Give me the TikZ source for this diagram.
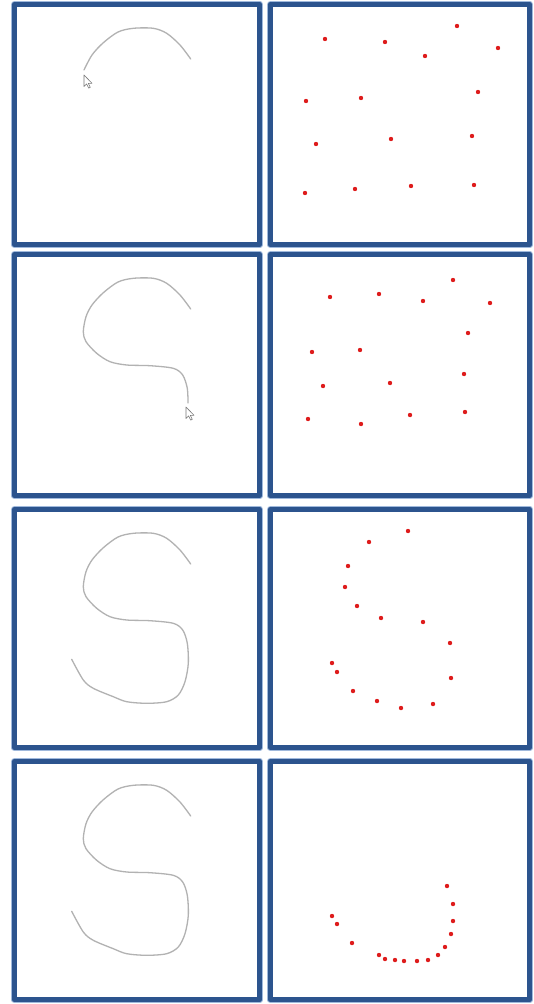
\documentclass[tikz,border=0pt]{standalone}
\usepackage{tikz}
\usetikzlibrary{arrows.meta}
\definecolor{sketch@frame}{RGB}{44,84,142}
\definecolor{sketch@halo}{RGB}{160,185,220}
\definecolor{sketch@ink}{RGB}{178,178,178}
\definecolor{sketch@dot}{RGB}{222,28,28}
\definecolor{sketch@cursor}{RGB}{120,120,120}
\tikzset{
  sketch/.style={x=1pt, y=-1pt, line join=round, line cap=round},
  panel/.style={                   % window frame
    draw=sketch@frame, line width=4.6pt,
    preaction={draw=sketch@halo, line width=6.4pt},
    fill=white
  },
  stroke/.style={draw=sketch@ink, line width=1.3pt},
  sample/.style={fill=sketch@dot},
  pointer/.style={draw=sketch@cursor, line width=0.6pt, fill=white}
}
% full S stroke, in panel coordinates
\newcommand{\sketchS}{(178.7,57) (168,43) (154.7,31.3) (141.3,26.3) (121.3,26.3)
  (106,30) (91,41) (80,53) (74,64.7) (71.3,79.7) (74,89.7) (84.7,101.3)
  (98,109.7) (114.7,113) (138,113.7) (161.3,116.3) (170.7,123) (175.3,136.3)
  (176.3,156.3) (173,174.7) (166.3,188) (154.7,194.7) (134.7,196.3) (114.7,194.7)
  (101.3,189.7) (81.3,181.3) (71.3,173) (59.7,152.3)}
\begin{document}
\begin{tikzpicture}[sketch]
\useasboundingbox (0,0) rectangle (533,1004);

% frames: left (drawing) and right (samples), four rows
\foreach \ptop/\pbot in {2/247, 252/498, 507/750, 759/1002} {
  \draw[panel] (14.3,\ptop+2.3) rectangle (259.7,\pbot-2.3);
  \draw[panel] (270.3,\ptop+2.3) rectangle (529.7,\pbot-2.3);
}

% row 1: start of the stroke
\begin{scope}[shift={(12,2)}]
  \draw[stroke] plot[smooth] coordinates {(178.7,57) (168,43) (154.7,31.3)
    (141.3,26.3) (121.3,26.3) (106,30) (91,41) (80,53) (72,68)};
\end{scope}
\draw[pointer] (84,75) -- ++(0,11.5) -- ++(2.6,-2.6) -- ++(2.1,4.2) -- ++(1.6,-0.8)
  -- ++(-2,-4) -- ++(3.7,0) -- cycle;

% row 2: stroke down to the lower bowl
\begin{scope}[shift={(12,252)}]
  \draw[stroke] plot[smooth] coordinates {(178.7,57) (168,43) (154.7,31.3)
    (141.3,26.3) (121.3,26.3) (106,30) (91,41) (80,53) (74,64.7)
    (71.3,79.7) (74,89.7) (84.7,101.3) (98,109.7) (114.7,113) (138,113.7)
    (161.3,116.3) (170.7,123) (175.3,136.3) (176,151)};
\end{scope}
\draw[pointer] (186,407) -- ++(0,11.5) -- ++(2.6,-2.6) -- ++(2.1,4.2) -- ++(1.6,-0.8)
  -- ++(-2,-4) -- ++(3.7,0) -- cycle;

% rows 3 and 4: whole S
\begin{scope}[shift={(12,507)}]
  \draw[stroke] plot[smooth] coordinates {\sketchS};
\end{scope}
\begin{scope}[shift={(12,759)}]
  \draw[stroke] plot[smooth] coordinates {\sketchS};
\end{scope}

% sample points
\foreach \px/\py in {325/39, 385/42, 457/26, 425/56, 498/48, 306/101, 361/98,
    478/92, 316/144, 391/139, 472/136, 305/193, 355/189, 411/186, 474/185}
  \fill[sample] (\px,\py) circle (2.2);
\foreach \px/\py in {330/297, 379/294, 453/280, 423/301, 490/303, 468/333,
    312/352, 360/350, 464/374, 323/386, 390/383, 308/419, 361/424, 410/415, 465/412}
  \fill[sample] (\px,\py) circle (2.2);
\foreach \px/\py in {408/531, 369/542, 348/566, 345/587, 357/606, 381/618,
    423/622, 450/643, 332/663, 337/672, 451/678, 353/691, 377/701, 401/708, 433/704}
  \fill[sample] (\px,\py) circle (2.2);
\foreach \px/\py in {447/886, 453/904, 453/921, 451/934, 445/947, 438/955,
    428/960, 417/961, 404/961, 395/960, 385/959, 379/955, 352/943, 337/924, 332/916}
  \fill[sample] (\px,\py) circle (2.2);

\end{tikzpicture}
\end{document}
